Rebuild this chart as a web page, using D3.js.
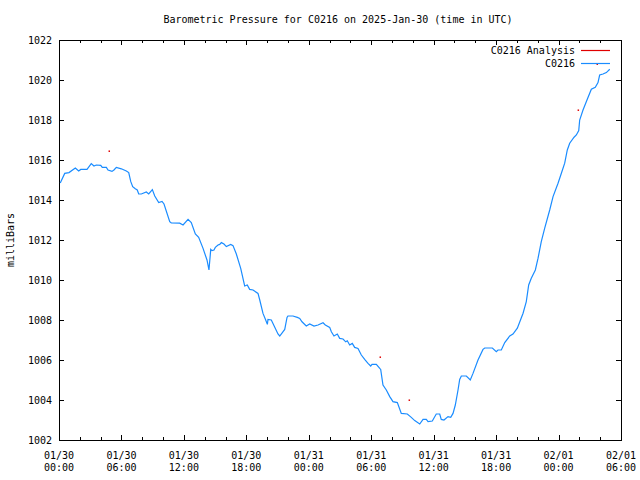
<!DOCTYPE html>
<html>
<head>
<meta charset="utf-8">
<script src="https://cdn.jsdelivr.net/npm/d3@7"></script>
<style>
  html, body { margin: 0; padding: 0; background: #fff; }
  svg { display: block; }
  text { font-family: "DejaVu Sans Mono", "Liberation Mono", monospace; font-size: 10px; fill: #000; }
</style>
</head>
<body>
<svg id="chart" width="640" height="480"></svg>
<script>
// ---- Data (hours since 2025-01-30 00:00 UTC, pressure in mB) ----
const obsHours = [0.12,0.55,0.96,1.57,1.89,2.09,2.69,3.10,3.36,3.58,4.01,4.16,4.55,4.71,5.09,5.28,5.51,5.99,6.47,6.70,6.89,7.08,7.33,7.52,7.66,
  7.91,8.39,8.62,8.97,9.20,9.58,9.90,10.09,10.64,10.79,11.60,11.92,12.40,12.71,13.10,13.42,13.84,14.22,14.41,14.58,14.70,14.89,15.02,15.28,15.44,
  15.60,15.85,16.08,16.50,16.72,17.04,17.46,17.84,18.09,18.32,18.64,19.12,19.29,19.60,19.86,20.02,20.08,20.40,20.56,21.04,21.21,21.69,21.91,22.00,22.48,22.90,23.13,
  23.35,23.76,24.09,24.50,24.89,25.37,25.59,26.01,26.17,26.42,26.74,26.97,27.29,27.55,27.70,27.93,28.18,28.41,28.73,29.05,29.37,29.69,29.95,30.08,30.49,30.82,
  30.91,31.13,31.45,31.78,32.09,32.51,32.89,33.47,33.85,34.18,34.66,34.98,35.29,35.46,35.87,36.25,36.58,36.73,36.99,37.38,37.64,37.86,38.08,38.34,38.50,
  38.66,39.14,39.52,39.78,40.26,40.74,40.91,41.64,42.02,42.18,42.50,42.83,43.31,43.62,44.04,44.59,44.90,45.13,45.38,45.77,46.03,
  46.34,46.67,47.15,47.47,47.95,48.27,48.59,48.84,49.07,49.49,49.71,49.94,50.03,50.35,50.76,51.15,51.53,51.79,51.95,52.27,52.59,52.92];
const obsPressure = [1014.85,1015.33,1015.37,1015.60,1015.45,1015.53,1015.53,1015.82,1015.70,1015.75,1015.73,1015.63,1015.63,1015.50,1015.43,1015.50,1015.63,1015.56,1015.45,1015.37,1014.93,1014.67,1014.56,1014.50,1014.30,
  1014.30,1014.40,1014.30,1014.52,1014.20,1013.87,1013.93,1013.80,1012.92,1012.85,1012.84,1012.75,1013.03,1012.87,1012.30,1012.13,1011.58,1011.00,1010.50,1011.53,1011.47,1011.50,1011.63,1011.75,1011.78,
  1011.87,1011.80,1011.67,1011.78,1011.72,1011.30,1010.58,1009.70,1009.75,1009.53,1009.50,1009.33,1009.00,1008.33,1008.00,1007.78,1008.03,1008.00,1007.83,1007.30,1007.20,1007.53,1008.13,1008.20,1008.20,1008.13,1008.08,
  1007.91,1007.70,1007.80,1007.70,1007.75,1007.86,1007.75,1007.63,1007.41,1007.20,1007.30,1007.08,1007.05,1006.91,1006.96,1006.75,1006.83,1006.63,1006.58,1006.25,1006.03,1005.83,1005.70,1005.78,1005.78,1005.58,
  1005.53,1004.75,1004.50,1004.17,1003.92,1003.87,1003.33,1003.30,1003.13,1002.97,1002.80,1003.03,1003.03,1002.92,1002.95,1003.30,1003.30,1003.03,1003.00,1003.17,1003.13,1003.33,1003.75,1004.50,1005.03,
  1005.20,1005.20,1005.00,1005.33,1006.00,1006.53,1006.60,1006.60,1006.42,1006.50,1006.50,1006.87,1007.20,1007.30,1007.59,1008.34,1008.92,1009.75,1010.09,1010.50,1011.09,
  1011.92,1012.59,1013.50,1014.17,1014.84,1015.34,1015.84,1016.50,1016.84,1017.14,1017.25,1017.47,1018.00,1018.50,1019.04,1019.54,1019.64,1019.87,1020.25,1020.30,1020.37,1020.54];
const analysisHours = [4.83, 30.87, 33.66, 49.90, 51.72];
const analysisPressure = [1016.44, 1006.14, 1003.99, 1018.49, 1020.79];
const yTicks = [1002,1004,1006,1008,1010,1012,1014,1016,1018,1020,1022];
const seriesNames = ["C0216 Analysis", "C0216"];
const titleText = "Barometric Pressure for C0216 on 2025-Jan-30 (time in UTC)";
const yLabel = "milliBars";

// ---- Layout ----
const svg = d3.select("#chart");
const L = 59, R = 621, T = 40, B = 440;
const t0 = Date.UTC(2025, 0, 30, 0, 0);
const t1 = Date.UTC(2025, 1, 1, 6, 0);
const toDate = h => new Date(t0 + h * 3600000);

const x = d3.scaleUtc().domain([new Date(t0), new Date(t1)]).range([L, R]);
const y = d3.scaleLinear().domain([1002, 1022]).range([B, T]);

const majorTicks = d3.utcHour.every(6).range(new Date(t0), new Date(t1 + 1));
const minorTicks = d3.utcHour.every(2).range(new Date(t0), new Date(t1 + 1));

function styleAxis(g) {
  g.select(".domain").remove();
  g.selectAll("line").attr("stroke", "#000").attr("shape-rendering", "crispEdges");
  g.selectAll("text").attr("fill", "#000").style("font-family", "DejaVu Sans Mono, monospace").style("font-size", "10px");
}

// minor x ticks bottom/top
svg.append("g").attr("transform", `translate(0,${B})`)
  .call(d3.axisBottom(x).tickValues(minorTicks).tickSize(-3).tickFormat("")).call(styleAxis);
svg.append("g").attr("transform", `translate(0,${T})`)
  .call(d3.axisTop(x).tickValues(minorTicks).tickSize(-3).tickFormat("")).call(styleAxis);
// major x ticks
svg.append("g").attr("transform", `translate(0,${B})`)
  .call(d3.axisBottom(x).tickValues(majorTicks).tickSize(-5).tickFormat("")).call(styleAxis);
svg.append("g").attr("transform", `translate(0,${T})`)
  .call(d3.axisTop(x).tickValues(majorTicks).tickSize(-5).tickFormat("")).call(styleAxis);

// x labels (two lines)
const fmtD = d3.utcFormat("%m/%d"), fmtT = d3.utcFormat("%H:%M");
const xl = svg.append("g");
majorTicks.forEach(d => {
  const t = xl.append("text").attr("text-anchor", "middle");
  t.append("tspan").attr("x", x(d)).attr("y", B + 19).text(fmtD(d));
  t.append("tspan").attr("x", x(d)).attr("y", B + 31).text(fmtT(d));
});

// y axes
svg.append("g").attr("transform", `translate(${L},0)`)
  .call(d3.axisLeft(y).tickValues(yTicks).tickSize(-5).tickPadding(7).tickFormat(d3.format("d"))).call(styleAxis);
svg.append("g").attr("transform", `translate(${R},0)`)
  .call(d3.axisRight(y).tickValues(yTicks).tickSize(-5).tickFormat("")).call(styleAxis);

// frame
svg.append("rect").attr("x", L + 0.5).attr("y", T + 0.5).attr("width", R - L).attr("height", B - T)
  .attr("fill", "none").attr("stroke", "#000").attr("stroke-width", 1);

// title and y label
svg.append("text").attr("x", 338).attr("y", 23).attr("text-anchor", "middle").text(titleText);
svg.append("text").attr("transform", "translate(14,240) rotate(-90)").attr("text-anchor", "middle").text(yLabel);

// observation line
const obs = obsHours.map((h, i) => ({ t: toDate(h), p: obsPressure[i] }));
svg.append("path").datum(obs)
  .attr("fill", "none").attr("stroke", "#1a8cff").attr("stroke-width", 1.2)
  .attr("d", d3.line().x(d => x(d.t)).y(d => y(d.p)));

// analysis points
const ana = analysisHours.map((h, i) => ({ t: toDate(h), p: analysisPressure[i] }));
svg.append("g").selectAll("rect").data(ana).join("rect")
  .attr("x", d => x(d.t) - 0.75).attr("y", d => y(d.p) - 0.75)
  .attr("width", 1.5).attr("height", 1.5).attr("fill", "#e00000");

// legend
const leg = svg.append("g");
const legColors = ["#e00000", "#1a8cff"];
seriesNames.forEach((n, i) => {
  const ly = 50 + i * 13;
  leg.append("text").attr("x", 575).attr("y", ly + 3.5).attr("text-anchor", "end").text(n);
  leg.append("line").attr("x1", 581).attr("x2", 610).attr("y1", ly + 0.5).attr("y2", ly + 0.5)
    .attr("stroke", legColors[i]).attr("stroke-width", 1.2);
});
</script>
</body>
</html>
